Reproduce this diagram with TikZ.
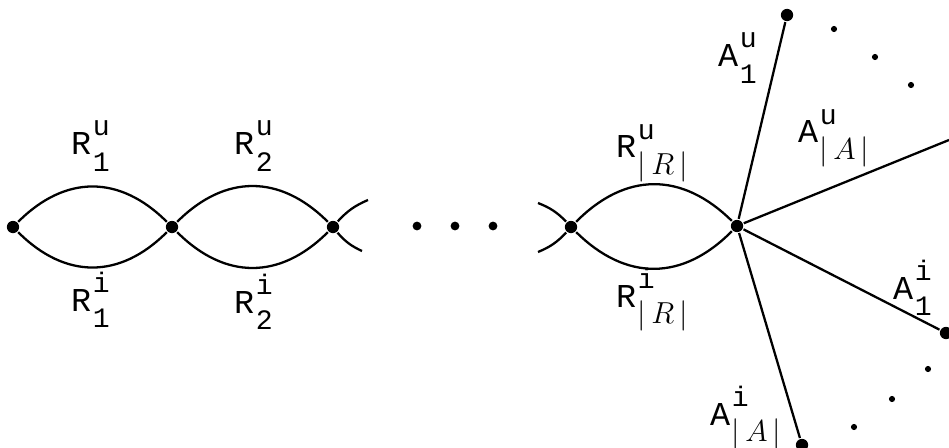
\documentclass[tikz,border=0pt]{standalone}
\usepackage{fontspec}
\setmonofont{Liberation Mono}
\newcommand{\lbl}[3]{{\fontsize{19}{19}\selectfont #1}\hspace{1pt}\rlap{\raisebox{10.5pt}{#2}}\raisebox{-9.5pt}{#3}}
\begin{document}
\begin{tikzpicture}[x=0.2mm,y=-0.2mm,line width=1.3pt,
  vtx/.style={circle,fill,inner sep=0pt,minimum size=7pt},
  sdot/.style={circle,fill,inner sep=0pt,minimum size=3.5pt},
  lab/.style={anchor=west,inner sep=0pt,font=\fontsize{16}{18}\selectfont\ttfamily}]
\useasboundingbox (0,0) rectangle (949,448);
% chain of lenses
\node[vtx] (v0) at (13,227) {};
\node[vtx] (v1) at (172,227) {};
\node[vtx] (v2) at (333,227) {};
\node[vtx] (v3) at (571,227) {};
\node[vtx] (v4) at (737,226) {};
\draw (v0) to[bend left=45,looseness=1.15] (v1);
\draw (v0) to[bend right=45,looseness=1.15] (v1);
\draw (v1) to[bend left=45,looseness=1.15] (v2);
\draw (v1) to[bend right=45,looseness=1.15] (v2);
\draw (v3) to[bend left=45,looseness=1.15] (v4);
\draw (v3) to[bend right=45,looseness=1.15] (v4);
\coordinate (s1) at (368,200);
\coordinate (s2) at (362,251);
\coordinate (s3) at (538,203);
\coordinate (s4) at (538,252);
\draw (v2) to[bend left=12] (s1);
\draw (v2) to[bend right=12] (s2);
\draw (s3) to[bend left=12] (v3);
\draw (s4) to[bend right=12] (v3);
\node[sdot,minimum size=5pt] (e1) at (417,226) {};
\node[sdot,minimum size=5pt] (e2) at (455,226) {};
\node[sdot,minimum size=5pt] (e3) at (493,226) {};
% spokes
\node[vtx] (a1u) at (787,15) {};
\coordinate (aAu) at (949,140);
\node[vtx] (a1i) at (946,333) {};
\node[vtx] (aAi) at (802,445) {};
\draw (v4) -- (a1u);
\draw (v4) -- (aAu);
\draw (v4) -- (a1i);
\draw (v4) -- (aAi);
\node[sdot] (d1) at (834,29) {};
\node[sdot] (d2) at (875,57) {};
\node[sdot] (d3) at (911,85) {};
\node[sdot] (d4) at (928,369) {};
\node[sdot] (d5) at (892,399) {};
\node[sdot] (d6) at (854,427) {};
% labels
\node[lab] (r1u) at (70,146) {\lbl{R}{u}{1}};
\node[lab] (r2u) at (233,146) {\lbl{R}{u}{2}};
\node[lab] (r1i) at (70,300) {\lbl{R}{i}{1}};
\node[lab] (r2i) at (233,302) {\lbl{R}{i}{2}};
\node[lab] (rRu) at (615,153) {\lbl{R}{u}{$|\,R\,|$}};
\node[lab] (rRi) at (615,300) {\lbl{R}{i}{$|\,R\,|$}};
\node[lab] (l1u) at (717,58) {\lbl{A}{u}{1}};
\node[lab] (lAu) at (797,138) {\lbl{A}{u}{$|\,A\,|$}};
\node[lab] (l1i) at (892,288) {\lbl{A}{i}{1}};
\node[lab] (lAi) at (709,418) {\lbl{A}{i}{$|\,A\,|$}};
\end{tikzpicture}
\end{document}
